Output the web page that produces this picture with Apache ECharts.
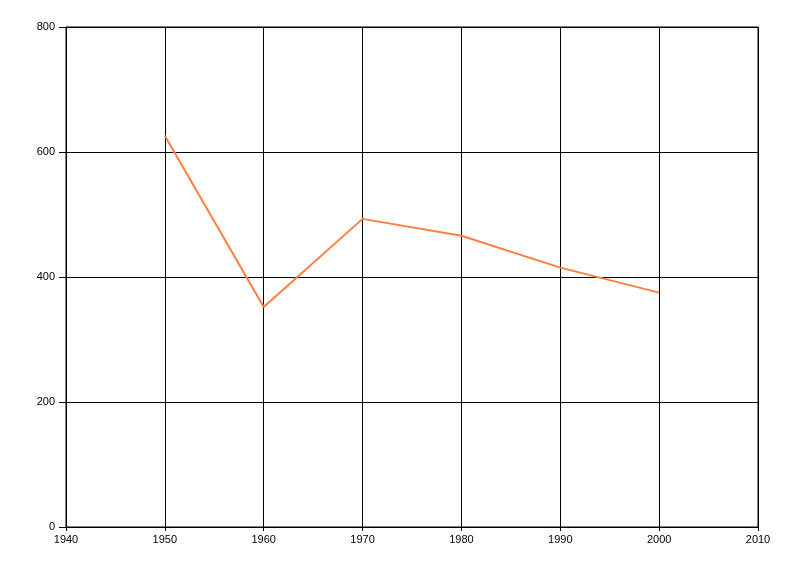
<!DOCTYPE html>
<html><head><meta charset="utf-8">
<script src="https://cdn.jsdelivr.net/npm/echarts@6/dist/echarts.min.js"></script>
<style>html,body{margin:0;padding:0;background:#fff}#c{width:800px;height:576px}</style>
</head><body><div id="c"></div>
<script>
const years = [1950, 1960, 1970, 1980, 1990, 2000];
const values = [626, 352, 493, 466, 415, 375];
const xTicks = [1940, 1950, 1960, 1970, 1980, 1990, 2000, 2010];
const yTicks = [0, 200, 400, 600, 800];

const chart = echarts.init(document.getElementById('c'), null, {renderer: 'canvas'});
const font = {fontFamily: 'Liberation Sans', fontSize: 11, color: '#000'};
chart.setOption({
  animation: false,
  grid: {left: 66, right: 42, top: 27, bottom: 49, show: true, borderColor: '#000', borderWidth: 1},
  xAxis: {
    type: 'value', min: xTicks[0], max: xTicks[xTicks.length - 1], interval: 10,
    axisLine: {show: true, lineStyle: {color: '#000', width: 1}},
    axisTick: {show: true, length: 4, lineStyle: {color: '#000'}},
    splitLine: {show: true, lineStyle: {color: '#000', width: 1}},
    axisLabel: Object.assign({margin: 7, formatter: v => String(v)}, font)
  },
  yAxis: {
    type: 'value', min: yTicks[0], max: yTicks[yTicks.length - 1], interval: 200,
    axisLine: {show: true, lineStyle: {color: '#000', width: 1}},
    axisTick: {show: true, length: 7, lineStyle: {color: '#000'}},
    splitLine: {show: true, lineStyle: {color: '#000', width: 1}},
    axisLabel: Object.assign({margin: 11}, font)
  },
  series: [{
    type: 'line',
    data: years.map((y, i) => [y, values[i]]),
    symbol: 'none',
    lineStyle: {color: '#ff7f3f', width: 2},
    itemStyle: {color: '#ff7f3f'}
  }]
});
</script></body></html>
